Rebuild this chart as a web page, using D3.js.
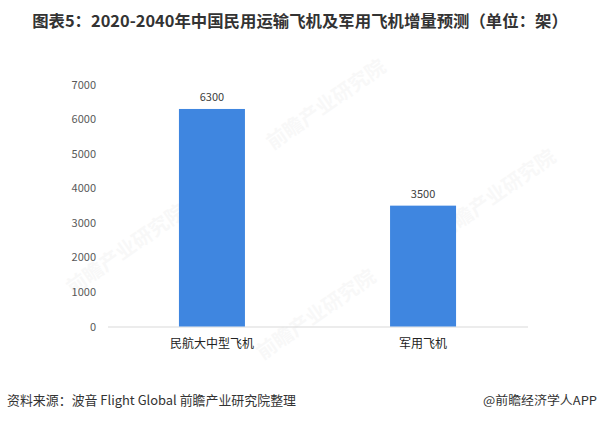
<!DOCTYPE html>
<html><head><meta charset="utf-8">
<script src="https://cdn.jsdelivr.net/npm/d3@7"></script>
<style>body{margin:0;background:#fff;}svg{display:block;}</style>
</head><body>
<script>
const categories = ["民航大中型飞机", "军用飞机"];
const values = [6300, 3500];
const yTicks = [0, 1000, 2000, 3000, 4000, 5000, 6000, 7000];
const title = "图表5：2020-2040年中国民用运输飞机及军用飞机增量预测（单位：架）";
const source = "资料来源：波音 Flight Global 前瞻产业研究院整理";
const brand = "@前瞻经济学人APP";

const W = 600, H = 422;
const svg = d3.select("body").append("svg").attr("width", W).attr("height", H);
const font = "'Noto Sans CJK SC','Microsoft YaHei',sans-serif";

// faint watermarks
const wm = [[130,255],[330,110],[320,320],[500,200]];
wm.forEach(([x,y]) => {
  svg.append("text").attr("transform", `translate(${x},${y}) rotate(-35)`)
    .attr("text-anchor","middle").attr("font-family", font).attr("font-size", 20)
    .attr("font-weight","bold").attr("fill","#000").attr("opacity",0.025).text("前瞻产业研究院");
});

const x = d3.scaleBand().domain(categories).range([106.5, 528.5]).paddingInner(0.687).paddingOuter(0.343);
const y = d3.scaleLinear().domain([0, 7000]).range([326.5, 84.8]);

svg.append("text").attr("x", 300).attr("y", 27).attr("text-anchor","middle")
  .attr("font-family", font).attr("font-size", 16.4).attr("font-weight","bold")
  .attr("fill","#333").text(title);

const yAxis = svg.append("g").attr("transform","translate(100,0)")
  .call(d3.axisLeft(y).tickValues(yTicks).tickSize(0).tickPadding(4).tickFormat(d3.format("d")));
yAxis.select(".domain").remove();
yAxis.selectAll("text").attr("font-family", font).attr("font-size", 11).attr("fill","#595959");

svg.append("line").attr("x1",108).attr("x2",528).attr("y1",y(0)+0.5).attr("y2",y(0)+0.5)
  .attr("stroke","#d9d9d9").attr("stroke-width",1);

const bw = 66;
svg.selectAll("rect.bar").data(values).enter().append("rect")
  .attr("x",(d,i)=>x(categories[i]) + x.bandwidth()/2 - bw/2)
  .attr("width", bw)
  .attr("y", d=>y(d)).attr("height", d=>y(0)-y(d))
  .attr("fill","#3f86e0");

svg.selectAll("text.val").data(values).enter().append("text")
  .attr("x",(d,i)=>x(categories[i]) + x.bandwidth()/2)
  .attr("y", d=>y(d)-8).attr("text-anchor","middle")
  .attr("font-family", font).attr("font-size", 11).attr("fill","#404040").text(d=>d);

svg.selectAll("text.cat").data(categories).enter().append("text")
  .attr("x", d=>x(d)+x.bandwidth()/2).attr("y", 348).attr("text-anchor","middle")
  .attr("font-family", font).attr("font-size", 12).attr("fill","#222").text(d=>d);

svg.append("text").attr("x",7).attr("y",405).attr("font-family",font).attr("font-size",13)
  .attr("textLength",289).attr("lengthAdjust","spacingAndGlyphs")
  .attr("fill","#333").text(source);
svg.append("text").attr("x",483).attr("y",405).attr("font-family",font)
  .attr("font-size",12).attr("textLength",114).attr("lengthAdjust","spacingAndGlyphs")
  .attr("fill","#333").text(brand);
</script>
</body></html>
